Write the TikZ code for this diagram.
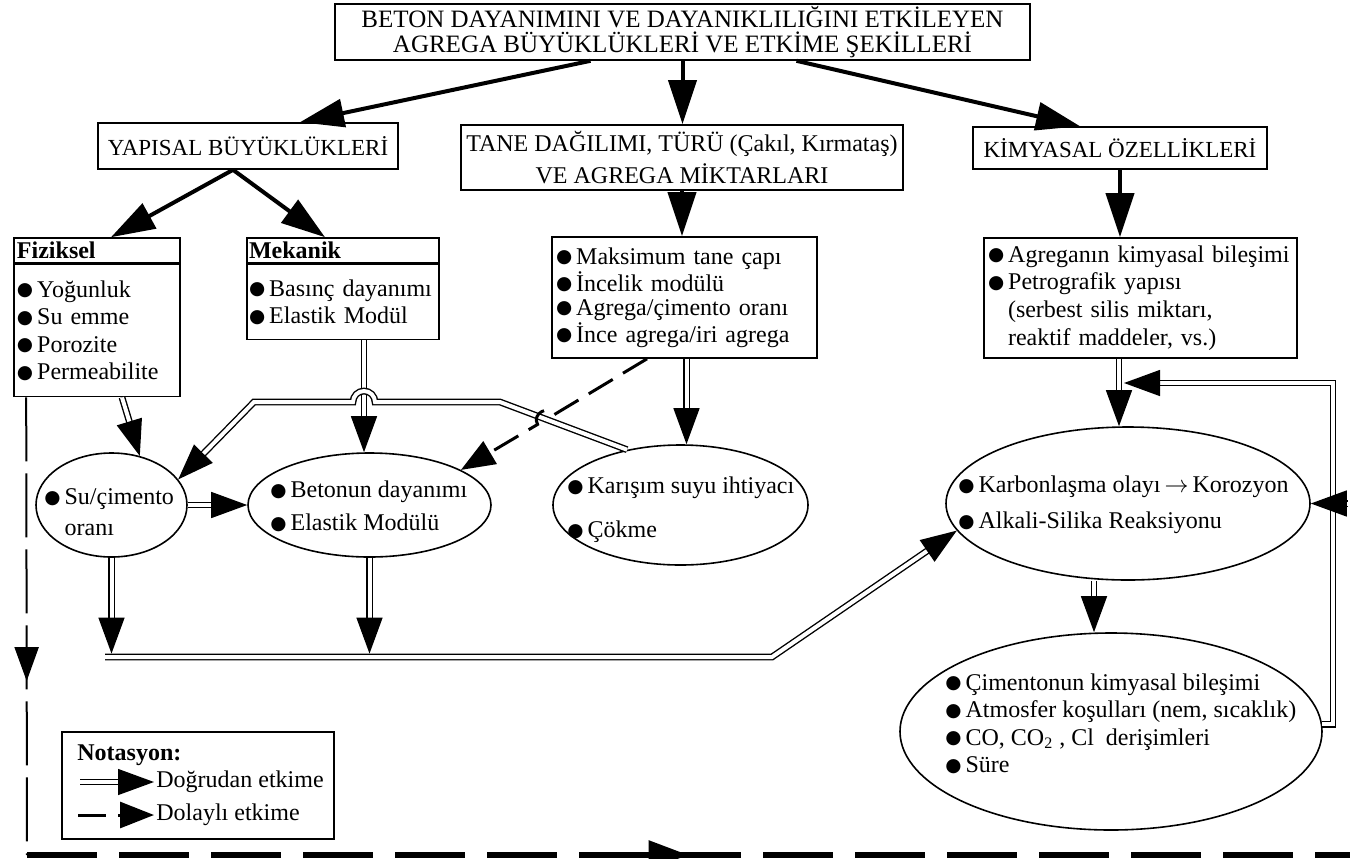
\documentclass[tikz,border=0pt]{standalone}
\usepackage{fontspec}
\setmainfont{Liberation Serif}
\newfontfamily\symfnt{DejaVu Sans}
\usetikzlibrary{arrows.meta,decorations.markings,shapes.geometric}
\newcommand{\bulletmark}{\raisebox{0.8pt}{\symfnt\fontsize{9.3}{9.3}\selectfont ●}\hspace{2pt}}

\begin{document}
\begin{tikzpicture}[x=0.5pt, y=-0.5pt,
    every node/.style={inner sep=1pt, font=\fontsize{12}{13.7}\selectfont},
    box/.style={draw, line width=0.8pt},
    oval/.style={draw, ellipse, line width=0.8pt, inner sep=0pt},
    etext/.style={align=left, anchor=west},
    thickarr/.style={line width=2pt, -{Triangle[length=22pt, width=14pt]}},
    direct/.style={double, double distance=2pt, line width=0.7pt, -{Triangle[length=18pt, width=13pt]}},
    indirect/.style={line width=1.5pt, dash pattern=on 14pt off 6pt, -{Triangle[length=17pt, width=13pt]}},
    dashline/.style={line width=1pt, dash pattern=on 32pt off 6pt, postaction={decorate},
        decoration={markings, mark=at position 0.62 with {\arrow{Triangle[length=17pt, width=12pt]}}}},
    bottomline/.style={line width=3pt, dash pattern=on 35pt off 11pt, postaction={decorate},
        decoration={markings, mark=at position 0.5 with {\arrow{Triangle[length=20pt, width=14pt]}}}}]
    \path[use as bounding box, fill=white] (0, 0) rectangle (1350, 858);

    \node[box, minimum width=347.5pt, minimum height=28pt, align=center, font=\fontsize{12.5}{12.5}\selectfont] at (682.5, 32) (title) {BETON DAYANIMINI VE DAYANIKLILIĞINI ETKİLEYEN\\AGREGA BÜYÜKLÜKLERİ VE ETKİME ŞEKİLLERİ};

    \node[box, minimum width=150pt, minimum height=23pt, font=\fontsize{11.5}{13}\selectfont] at (248, 146) (yapisal) {YAPISAL BÜYÜKLÜKLERİ};
    \node[box, minimum width=221pt, minimum height=32.5pt, align=center, font=\fontsize{12}{16}\selectfont] at (682, 157.5) (tane) {TANE DAĞILIMI, TÜRÜ (Çakıl, Kırmataş)\\VE AGREGA MİKTARLARI};
    \node[box, minimum width=147pt, minimum height=21pt, font=\fontsize{11.5}{13}\selectfont] at (1120, 148) (kimya) {KİMYASAL ÖZELLİKLERİ};

    \node[box, minimum width=83pt, minimum height=12.5pt, text width=80pt, align=left, font=\bfseries\fontsize{12}{13}\selectfont] at (97, 250.5) (fizhead) {Fiziksel};
    \node[box, minimum width=83pt, minimum height=66pt, text width=80pt, align=left, anchor=north] at (fizhead.south) (fizbody) {\bulletmark Yoğunluk\\ \bulletmark Su emme\\ \bulletmark Porozite\\ \bulletmark Permeabilite};
    \node[box, minimum width=96pt, minimum height=12.5pt, text width=94pt, align=left, inner sep=0.8pt, font=\bfseries\fontsize{12}{13}\selectfont] at (343, 250.5) (mekhead) {Mekanik};
    \node[box, minimum width=96pt, minimum height=37.5pt, text width=94pt, align=left, inner sep=0.8pt, anchor=north] at (mekhead.south) (mekbody) {\mbox{\bulletmark Basınç dayanımı}\\ \bulletmark Elastik Modül};
    \node[box, minimum width=132.5pt, minimum height=60.5pt, text width=128.5pt, align=left, font=\fontsize{12}{12.2}\selectfont] at (684.5, 297.5) (tanelist) {\bulletmark Maksimum tane çapı\\ \bulletmark İncelik modülü\\ \bulletmark Agrega/çimento oranı\\ \bulletmark İnce agrega/iri agrega};
    \node[box, minimum width=156.5pt, minimum height=60pt, text width=152.5pt, align=left, font=\fontsize{12}{13.8}\selectfont] at (1140.5, 298) (chembox) {\bulletmark Agreganın kimyasal bileşimi\\ \bulletmark Petrografik yapısı\\ \hspace*{10pt}(serbest silis miktarı,\\ \hspace*{10pt}reaktif maddeler, vs.)};

    \node[oval, minimum width=75.5pt, minimum height=52pt] at (111.5, 505) (sucim) {};
    \node[oval, minimum width=121.5pt, minimum height=52pt] at (369.5, 505) (beton) {};
    \node[oval, minimum width=127.5pt, minimum height=60pt] at (680.5, 505) (karisim) {};
    \node[oval, minimum width=182pt, minimum height=76.5pt] at (1128, 503.5) (karbon) {};
    \node[oval, minimum width=211pt, minimum height=98.5pt] at (1111, 731.5) (cimento) {};

    \node[etext, font=\fontsize{12}{15.5}\selectfont] at (42, 512.5) (sucimtxt) {\bulletmark Su/çimento\\ \hphantom{\bulletmark}oranı};
    \node[etext, font=\fontsize{12}{16.5}\selectfont] at (268, 506.5) (betontxt) {\bulletmark Betonun dayanımı\\ \bulletmark Elastik Modülü};
    \node[etext, font=\fontsize{12}{22}\selectfont] at (565, 510) (karisimtxt) {\bulletmark Karışım suyu ihtiyacı\\ \bulletmark Çökme};
    \node[etext, font=\fontsize{12}{18}\selectfont] at (956, 505) (karbontxt) {\bulletmark Karbonlaşma olayı$\,\rightarrow\,$Korozyon\\ \bulletmark Alkali-Silika Reaksiyonu};
    \node[etext, font=\fontsize{12}{13.8}\selectfont] at (943, 723.5) (cimentotxt) {\bulletmark Çimentonun kimyasal bileşimi\\ \bulletmark Atmosfer koşulları (nem, sıcaklık)\\ \bulletmark CO, CO\textsubscript{2} , Cl\ \ derişimleri\\ \bulletmark Süre};

    \node[box, minimum width=136pt, minimum height=53.5pt] at (198, 785.5) (legend) {};
    \node[anchor=west, font=\bfseries\fontsize{12}{13}\selectfont] at (75, 755) (notasyon) {Notasyon:};
    \node[anchor=west] at (154, 782) (legdirect) {Doğrudan etkime};
    \node[anchor=west] at (154, 815) (legindirect) {Dolaylı etkime};
    \coordinate (legA) at (80, 782);
    \coordinate (legB) at (78, 815);

    \coordinate (busL) at (105, 657);
    \coordinate (busR) at (772, 657);
    \coordinate (loopTR) at (1333, 383);
    \coordinate (loopTL) at (1124, 383);
    \coordinate (loopE) at (1348, 503.5);
    \coordinate (cornerBL) at (27, 855);
    \coordinate (bottomE) at (1350, 855);

    \draw[thickarr] ([xshift=-46pt]title.south) -- ([xshift=26pt]yapisal.north);
    \draw[thickarr] (title.south) -- (title.south |- tane.north);
    \draw[thickarr] ([xshift=57pt]title.south) -- ([xshift=-20pt]kimya.north);
    \draw[thickarr] ([xshift=-7.5pt]yapisal.south) -- ([xshift=7pt]fizhead.north);
    \draw[thickarr] ([xshift=-7.5pt]yapisal.south) -- ([xshift=-9pt]mekhead.north);
    \draw[thickarr] (tane.south) -- (tane.south |- tanelist.north);
    \draw[thickarr] (kimya.south) -- (kimya.south |- chembox.north);

    \draw[direct] ([xshift=12.5pt]fizbody.south) -- (sucim.60);
    \draw[direct] ([xshift=10.5pt]mekbody.south) -- ([xshift=10.5pt]mekbody.south |- beton.north);
    \draw[direct] (sucim.east) -- (beton.west);
    \draw[direct] ([xshift=1pt]tanelist.south) -- ([xshift=1pt]tanelist.south |- karisim.north);
    \draw[direct] ([xshift=-10.75pt]chembox.south) -- ([xshift=-10.75pt]chembox.south |- karbon.north);
    \draw[direct] ([xshift=-17pt]karbon.south) -- ([xshift=-17pt]karbon.south |- cimento.north);
    \draw[direct] (karisim.134) -- (500, 402) -- (375, 402) arc[start angle=0, end angle=-180, radius=11] -- (254, 402) -- (sucim.21);
    \draw[indirect] ([xshift=-18.75pt]tanelist.south) -- (554.4, 414.5) .. controls (548.3, 404.2) and (531.5, 414.1) .. (537.6, 424.4) -- (beton.21);

    \draw[direct] (busL) -- (busR) -- (karbon.189);
    \draw[direct, shorten >=1.7pt] (sucim.south) -- (sucim.south |- busL);
    \draw[direct, shorten >=1.7pt] (beton.south) -- (beton.south |- busL);

    \draw[direct] (cimento.2) -| (loopTR) -- (loopTL);
    \draw[direct] (loopE) -- (karbon.east);

    \draw[dashline] ([xshift=6.5pt]fizbody.south west) -- (cornerBL);
    \draw[bottomline] (cornerBL) -- (bottomE);

    \draw[direct] (legA) -- (legdirect.west);
    \draw[indirect] (legB) -- (legindirect.west);
\end{tikzpicture}
\end{document}
